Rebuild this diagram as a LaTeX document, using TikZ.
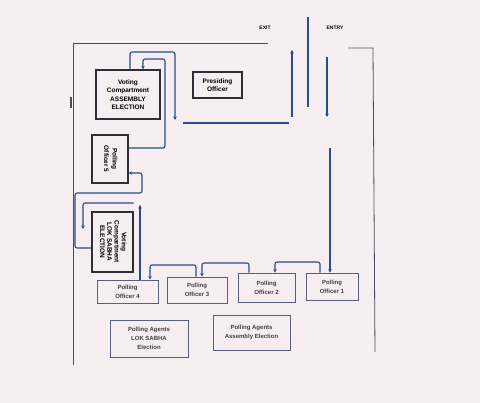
\documentclass[tikz,border=0pt]{standalone}
\usepackage{fontspec}
\setmainfont{Liberation Sans}
\usepackage{graphicx}
\definecolor{flowblue}{HTML}{2B4C8E}
\definecolor{wallgray}{HTML}{4A4A5E}
\definecolor{boxdark}{HTML}{2E2E38}
\definecolor{boxsoft}{HTML}{5A5F80}
\definecolor{screenbg}{HTML}{F6EEF1}
\usetikzlibrary{arrows.meta, calc}

\begin{document}
\begin{tikzpicture}[x=1pt, y=-1pt,
  room/.style={draw=wallgray, line width=0.8pt},
  flow/.style={draw=flowblue, line width=1.1pt, rounded corners=2pt,
    -{Stealth[length=3.5pt, width=3.5pt]}},
  plain/.style={draw=flowblue, line width=1.1pt},
  darkbox/.style={draw=boxdark, line width=1.2pt, inner sep=1pt, align=center,
    font=\fontsize{6.5}{8.5}\selectfont\bfseries},
  softbox/.style={draw=boxsoft, line width=0.8pt, inner sep=1pt, align=center,
    text=black!75, font=\fontsize{6}{9}\selectfont\bfseries},
  tag/.style={font=\fontsize{5}{6}\selectfont\bfseries}]
  \useasboundingbox (0,0) rectangle (480,403);
  \fill[screenbg] (0,0) rectangle (480,403);

  \node[darkbox, minimum width=64pt, minimum height=49pt] (vcAE) at (128,94.5)
    {Voting\\Compartment\\ASSEMBLY\\ELECTION};
  \node[darkbox, minimum width=49pt, minimum height=26pt] (presiding) at (217.5,85)
    {Presiding\\Officer};
  \node[darkbox, minimum width=36pt, minimum height=48pt] (po5) at (110,159)
    {\rotatebox{-90}{\begin{tabular}{@{}c@{}}Polling\\Officer 5\end{tabular}}};
  \node[darkbox, minimum width=41pt, minimum height=60pt] (vcLS) at (112.5,242)
    {\rotatebox{-90}{\renewcommand{\arraystretch}{0.85}%
      \begin{tabular}{@{}c@{}}Voting\\Compartment\\LOK SABHA\\ELECTION\end{tabular}}};

  \node[softbox, minimum width=61pt, minimum height=23pt] (po4) at (127.5,291.5)
    {Polling\\Officer 4};
  \node[softbox, minimum width=60pt, minimum height=26pt] (po3) at (197,290)
    {Polling\\Officer 3};
  \node[softbox, minimum width=57pt, minimum height=29pt] (po2) at (266.5,287.5)
    {Polling\\Officer 2};
  \node[softbox, minimum width=52pt, minimum height=27pt] (po1) at (332,286.5)
    {Polling\\Officer 1};
  \node[softbox, minimum width=78pt, minimum height=37pt] (agentLS) at (149,338.5)
    {Polling Agents\\LOK SABHA\\Election};
  \node[softbox, minimum width=77pt, minimum height=35pt] (agentAE) at (251.5,332.5)
    {Polling Agents\\Assembly Election};

  \node[tag] (exit) at (265,28) {EXIT};
  \node[tag] (entry) at (335,28) {ENTRY};

  \draw[room] (268,43) -- (73,43) -- (73,365);
  \draw[room] (348,48) -- (373,48) -- (375,352);
  \draw[wallgray, line width=2pt] (71,97) -- (71,108);
  \draw[plain] (308,17) -- (308,107);

  \coordinate (exittop) at (292,50);
  \coordinate (exitfoot) at (292,117);
  \coordinate (entrytop) at (327,57);
  \coordinate (entryfoot) at (327,117);
  \coordinate (lanetop) at (330,148);
  \coordinate (lsgap) at (140,205);
  \coordinate (lsdoor) at (83,229);
  \coordinate (aisle) at (175,120);
  \coordinate (passW) at (183,123);
  \coordinate (passE) at (289,123);

  \draw[flow] (exitfoot) -- (exittop);
  \draw[flow] (entrytop) -- (entryfoot);
  \draw[flow] (lanetop) -- (lanetop |- po1.north);
  \draw[flow] (po1.north -| 320,0) |- (275,262) -- (po2.north -| 275,0);
  \draw[flow] (po2.north -| 249,0) |- (202,263) -- (po3.north -| 202,0);
  \draw[flow] (po3.north -| 196,0) |- (150,265) -- (po4.north -| 150,0);
  \draw[flow] (po4.north -| lsgap) -- (lsgap);
  \draw[flow] (vcLS.east |- 0,203) -| (lsdoor);
  \draw[flow] (vcLS.west |- 0,248) -| (75,193) -| (142,173) -- (po5.east |- 0,173);
  \draw[flow] (po5.east |- 0,148) -| (165,59) -| (vcAE.north -| 143,0);
  \draw[flow] (vcAE.north -| 130,0) |- (175,52) -- (aisle);
  \draw[plain] (passW) -- (passE);
\end{tikzpicture}
\end{document}
